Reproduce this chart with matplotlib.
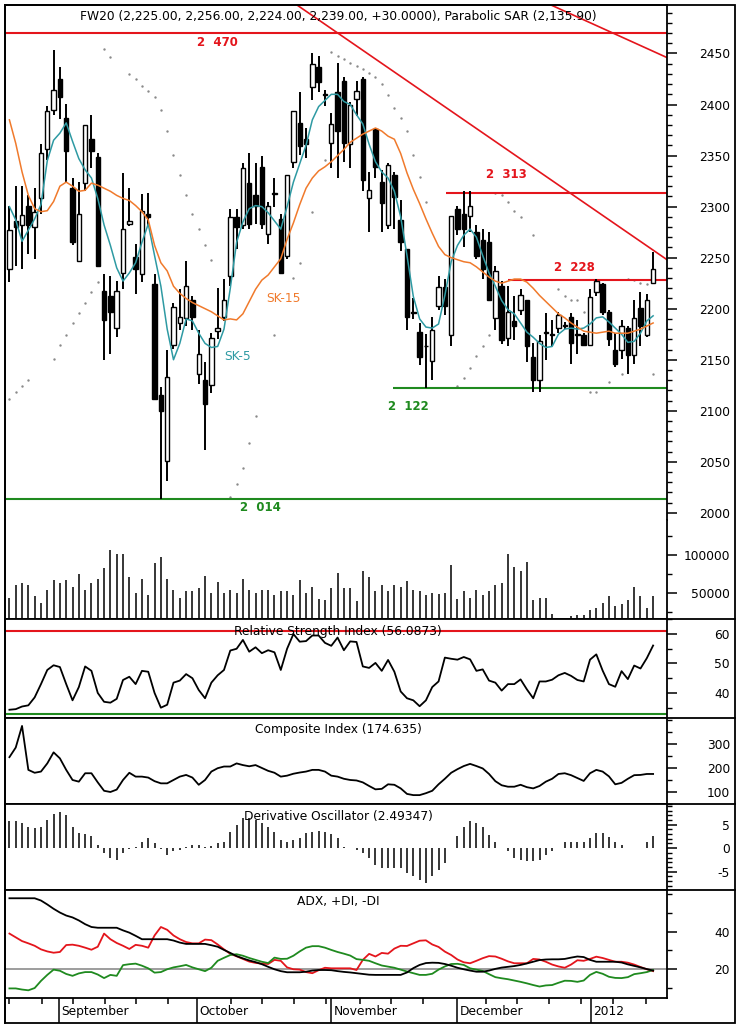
import numpy as np
import matplotlib.pyplot as plt
import matplotlib.lines as mlines
from matplotlib.patches import Rectangle
from matplotlib.ticker import MultipleLocator, FixedLocator

plt.rcParams['font.family'] = ['DejaVu Sans']
plt.rcParams['axes.unicode_minus'] = False

# ── data (one value per session) ────────────────────────────────────────────
opens = [2239, 2286, 2282, 2301, 2280, 2308, 2356, 2395, 2425, 2387,
         2318, 2247, 2323, 2366, 2349, 2217, 2212, 2181, 2235, 2283,
         2251, 2234, 2293, 2224, 2115, 2051, 2164, 2186, 2191, 2209,
         2136, 2130, 2125, 2178, 2192, 2232, 2290, 2282, 2323, 2311,
         2339, 2273, 2313, 2288, 2252, 2344, 2382, 2366, 2417, 2437,
         2410, 2362, 2412, 2423, 2361, 2405, 2425, 2308, 2376, 2324,
         2282, 2331, 2287, 2258, 2197, 2177, 2163, 2149, 2203, 2221,
         2174, 2298, 2293, 2291, 2275, 2267, 2265, 2191, 2222, 2171,
         2188, 2199, 2209, 2153, 2130, 2176, 2175, 2181, 2183, 2192,
         2174, 2174, 2164, 2216, 2224, 2197, 2160, 2160, 2181, 2155,
         2201, 2174, 2225]
highs = [2301, 2320, 2320, 2311, 2318, 2361, 2399, 2453, 2437, 2401,
         2328, 2324, 2380, 2390, 2353, 2234, 2232, 2227, 2333, 2318,
         2263, 2312, 2313, 2234, 2123, 2160, 2206, 2219, 2247, 2212,
         2179, 2148, 2176, 2220, 2229, 2298, 2298, 2343, 2353, 2343,
         2350, 2305, 2328, 2293, 2331, 2394, 2412, 2377, 2450, 2448,
         2414, 2392, 2441, 2427, 2402, 2423, 2427, 2334, 2377, 2336,
         2343, 2334, 2306, 2258, 2210, 2186, 2175, 2192, 2232, 2229,
         2291, 2301, 2315, 2315, 2282, 2278, 2275, 2242, 2227, 2222,
         2212, 2219, 2209, 2166, 2174, 2196, 2189, 2197, 2187, 2196,
         2189, 2176, 2219, 2229, 2225, 2199, 2176, 2189, 2183, 2209,
         2216, 2214, 2256]
lows = [2226, 2242, 2239, 2254, 2249, 2293, 2346, 2390, 2386, 2324,
        2262, 2247, 2315, 2338, 2242, 2150, 2156, 2172, 2219, 2281,
        2214, 2226, 2280, 2112, 2014, 2031, 2161, 2179, 2183, 2179,
        2126, 2062, 2117, 2170, 2188, 2222, 2258, 2278, 2278, 2283,
        2278, 2263, 2300, 2235, 2249, 2338, 2351, 2348, 2404, 2412,
        2399, 2338, 2328, 2344, 2338, 2389, 2315, 2275, 2328, 2275,
        2278, 2278, 2257, 2179, 2190, 2145, 2122, 2130, 2199, 2194,
        2163, 2272, 2260, 2275, 2249, 2229, 2209, 2179, 2165, 2163,
        2169, 2194, 2148, 2118, 2118, 2150, 2163, 2176, 2180, 2146,
        2156, 2163, 2163, 2212, 2194, 2163, 2143, 2151, 2136, 2146,
        2163, 2172, 2224]
closes = [2277, 2280, 2292, 2282, 2295, 2353, 2394, 2414, 2407, 2354,
          2265, 2293, 2380, 2354, 2242, 2189, 2197, 2217, 2278, 2286,
          2239, 2296, 2290, 2112, 2100, 2133, 2202, 2192, 2222, 2192,
          2156, 2107, 2171, 2181, 2209, 2290, 2280, 2338, 2283, 2301,
          2283, 2301, 2312, 2235, 2331, 2394, 2359, 2361, 2440, 2422,
          2409, 2381, 2374, 2362, 2400, 2413, 2326, 2316, 2339, 2304,
          2341, 2309, 2265, 2192, 2196, 2153, 2163, 2179, 2221, 2203,
          2291, 2278, 2278, 2301, 2252, 2239, 2209, 2237, 2169, 2197,
          2183, 2213, 2163, 2130, 2168, 2176, 2174, 2194, 2184, 2166,
          2175, 2164, 2211, 2227, 2197, 2170, 2146, 2183, 2155, 2191,
          2183, 2209, 2239]
volume = [43750, 60400, 62500, 60400, 45900, 37500, 54200, 66700, 62500, 66700,
          58300, 75000, 54200, 62500, 68700, 82500, 107000, 101000, 101000, 70400,
          50000, 68700, 48000, 89600, 97100, 67900, 54200, 43750, 52100, 52100,
          56200, 72900, 50000, 64600, 50000, 54200, 50000, 67900, 54200, 50000,
          54200, 54200, 48000, 52100, 52100, 48000, 66700, 50000, 57500, 41700,
          40400, 56200, 76200, 56200, 56200, 39600, 78300, 70400, 52100, 60400,
          52100, 60400, 57900, 66200, 54200, 52100, 48000, 50000, 49000, 50000,
          86700, 41700, 52100, 43750, 54200, 48000, 52100, 60400, 62500, 101000,
          84600, 78300, 90500, 40400, 43750, 43750, 23000, 9000, 7000, 19600,
          21700, 21700, 28000, 30000, 37500, 45900, 33300, 35400, 40400, 58300,
          45900, 30000, 45900]
sk5 = [2300, 2287, 2266, 2277, 2288, 2302, 2345, 2365, 2372, 2382,
       2364, 2347, 2336, 2328, 2308, 2282, 2262, 2240, 2227, 2235,
       2245, 2265, 2283, 2252, 2222, 2180, 2150, 2166, 2190, 2188,
       2176, 2166, 2162, 2163, 2180, 2220, 2265, 2285, 2298, 2301,
       2300, 2294, 2286, 2278, 2300, 2324, 2342, 2360, 2385, 2398,
       2404, 2410, 2410, 2403, 2400, 2390, 2381, 2361, 2344, 2334,
       2328, 2315, 2290, 2252, 2212, 2190, 2182, 2181, 2185, 2213,
       2246, 2262, 2272, 2278, 2270, 2252, 2235, 2222, 2208, 2199,
       2195, 2186, 2177, 2172, 2166, 2162, 2163, 2175, 2180, 2181,
       2180, 2181, 2185, 2191, 2192, 2187, 2181, 2175, 2167, 2168,
       2176, 2188, 2193]
sk15 = [2385, 2362, 2334, 2311, 2298, 2295, 2296, 2305, 2320, 2324,
        2320, 2315, 2316, 2323, 2321, 2318, 2315, 2311, 2308, 2306,
        2301, 2295, 2287, 2262, 2245, 2237, 2222, 2215, 2210, 2206,
        2203, 2200, 2197, 2193, 2189, 2190, 2189, 2195, 2207, 2219,
        2228, 2233, 2241, 2249, 2268, 2284, 2302, 2318, 2328, 2335,
        2339, 2344, 2350, 2356, 2363, 2367, 2371, 2374, 2377, 2374,
        2369, 2366, 2352, 2333, 2317, 2303, 2288, 2274, 2261, 2253,
        2250, 2248, 2246, 2245, 2241, 2236, 2231, 2227, 2225, 2227,
        2229, 2229, 2226, 2220, 2213, 2207, 2201, 2195, 2191, 2186,
        2182, 2178, 2177, 2176, 2177, 2178, 2176, 2176, 2176, 2178,
        2180, 2183, 2186]
nan = np.nan
sar = [2112, 2118, 2124, 2130, nan, nan, nan, 2151, 2164, 2174,
       2186, 2196, 2206, 2216, 2226, 2454, 2447, nan, nan, 2430,
       2425, 2418, 2413, 2407, 2395, 2374, 2351, 2331, 2311, 2293,
       2278, 2262, 2248, nan, nan, 2016, 2028, 2044, 2068, 2095,
       nan, nan, 2174, nan, nan, 2230, 2245, nan, 2295, nan,
       2346, 2451, 2448, 2445, 2441, 2438, 2435, 2431, 2427, 2420,
       2409, 2397, 2387, 2374, 2351, 2329, 2305, nan, nan, nan,
       nan, 2124, 2132, 2142, 2154, 2163, 2174, 2313, 2311, 2305,
       2296, 2290, nan, 2272, nan, nan, nan, 2219, 2212, 2209,
       2209, 2197, 2118, 2118, nan, 2128, nan, 2136, 2229, 2228,
       2225, 2224, 2136]
rsi = [34.3, 34.5, 35.4, 35.8, 38.5, 43, 47.8, 49.4, 48.8, 43,
       37.5, 42, 49, 47.5, 40, 37, 36.7, 38, 44.4, 45.5,
       43, 47.5, 47.2, 40, 35, 36, 43.5, 44.2, 46.4, 45,
       41, 38.2, 43.5, 46, 47.8, 54.4, 55, 58, 54, 55.5,
       53.5, 54.5, 53.8, 47.8, 55, 60, 57.4, 57.6, 59.5, 59.5,
       57, 56, 58.8, 54.5, 57.5, 57.3, 49, 48.5, 50.2, 47.5,
       51.2, 47.2, 40.5, 38.2, 37.5, 35.5, 37.5, 42, 43.9, 52,
       51.6, 51.3, 52.2, 51.4, 47.5, 48, 44.2, 43.5, 40.8, 43,
       43, 44.6, 41.2, 38.2, 43.9, 43.9, 44.5, 46, 46.8, 45.8,
       44.4, 43.9, 51.3, 53.1, 47.6, 43, 42.1, 47.4, 44.7, 49.3,
       48.3, 51.8, 56.1]
composite = [245, 285, 375, 192, 180, 185, 219, 265, 240, 192,
             150, 143, 178, 178, 140, 105, 100, 110, 150, 180,
             164, 164, 160, 145, 136, 136, 150, 164, 171, 160,
             130, 150, 185, 199, 206, 206, 219, 212, 207, 212,
             200, 188, 180, 164, 168, 176, 181, 185, 192, 192,
             185, 168, 164, 155, 150, 148, 140, 125, 111, 113,
             132, 130, 115, 92, 87, 87, 95, 105, 132, 155,
             180, 195, 208, 217, 208, 198, 175, 145, 128, 122,
             122, 130, 120, 115, 125, 143, 155, 175, 178, 170,
             158, 146, 178, 192, 185, 165, 132, 138, 155, 170,
             171, 175, 175]
deriv_osc = [5.7, 5.7, 5.3, 4.6, 4.2, 4.6, 6.0, 7.3, 7.8, 7.1,
             4.6, 3.2, 3.0, 2.5, 0.7, -1.1, -2.1, -2.6, -1.1, -0.2,
             0.2, 1.4, 2.1, 1.1, -0.2, -1.4, -0.7, -0.35, 0.35, 0.7,
             0.7, 0.35, 0.5, 1.1, 1.4, 3.5, 5.0, 6.4, 6.4, 6.0,
             5.3, 4.6, 3.5, 1.8, 1.4, 1.8, 2.1, 3.2, 3.5, 3.7,
             3.5, 3.0, 2.1, 0.35, 0.05, -0.35, -1.1, -2.1, -3.5, -4.3,
             -4.3, -4.3, -4.3, -5.3, -6.0, -6.7, -7.4, -6.0, -4.6, -3.2,
             0.0, 2.5, 4.6, 5.7, 5.4, 4.6, 2.8, 1.4, 0.05, -0.7,
             -2.1, -2.5, -2.8, -2.8, -2.5, -1.4, -0.7, 0.0, 1.4, 1.4,
             1.4, 1.4, 2.1, 3.2, 3.2, 2.3, 1.4, 0.7, 0.0, 0.0,
             0.0, 1.4, 2.5]
adx = [57.8, 57.8, 57.8, 57.8, 57.8, 56.6, 54.5, 52.2, 50.2, 48.6,
       47.6, 46, 44, 42.5, 42.1, 42.1, 42.1, 42.1, 40.7, 39.5,
       37.8, 36, 36, 36, 36, 36, 35.3, 34.2, 33.5, 33.5,
       33.5, 33.5, 32.8, 32, 30.3, 28.7, 27, 25.8, 24.7, 23.8,
       22.7, 21.3, 20, 19, 18.4, 18.4, 18.4, 18.7, 19.3, 19.6,
       19.6, 19.5, 19, 18.6, 18.3, 17.9, 17.5, 17.1, 17, 17,
       17, 17, 17, 18.3, 20.6, 22.3, 23.3, 23.5, 23.4, 22.8,
       21.9, 20.8, 20, 19.3, 18.7, 18.7, 19.3, 20.2, 20.9, 21.3,
       21.7, 22.3, 23.1, 24, 24.9, 25.2, 25.3, 25.3, 25.5, 26.2,
       26.8, 26.5, 25, 24, 24, 24, 24, 23.6, 22.6, 21.8,
       21, 20.1, 19.3]
minus_di = [39, 37, 35, 33.8, 32.5, 30.6, 29.5, 28.8, 29.2, 32.9,
            33.1, 32.5, 31.5, 30.4, 32, 39, 36, 34, 32.5, 30.8,
            33, 32.5, 31.5, 38, 42.5, 41, 38, 36, 34.5, 33.8,
            33.8, 35.8, 35.5, 33.2, 30.6, 28.2, 26.9, 25.5, 24.1, 23.4,
            23, 22.8, 25, 24.5, 21, 20, 19.8, 18.5, 17.9, 19.5,
            20.8, 20.5, 20.5, 20.5, 20.5, 19.6, 25, 28.2, 26.8, 28.7,
            28.3, 31, 32.5, 32.4, 33.8, 35.2, 35.4, 33.2, 31.9, 29.4,
            27.6, 25.2, 23.7, 23.2, 24.5, 25.9, 27, 26.8, 25.6, 24.2,
            23.2, 23.2, 23.2, 25.5, 25.2, 24, 22.5, 21.5, 20.8, 22.5,
            24.8, 24.5, 25.5, 26.7, 26, 25, 24, 24, 23.5, 22.5,
            21.2, 20, 19]
plus_di = [9.8, 9.8, 9.2, 8.8, 10, 13.8, 17, 19.8, 19.2, 17.5,
           16.5, 17.8, 18.5, 18.5, 17.2, 15.3, 17, 16.5, 22.2, 22.7,
           23, 21.9, 20.5, 18.2, 18.5, 20, 21, 21.6, 22.3, 21,
           20, 19, 20.8, 24.5, 26.1, 27.6, 28, 27.2, 26, 25,
           24, 23.3, 26.2, 25.5, 25.6, 27.2, 29.5, 31.5, 32.3, 32.3,
           31.5, 30.3, 29.2, 28.3, 27.3, 25.4, 25, 24.5, 23.2, 22,
           21.4, 20.8, 19.8, 18.8, 17.9, 17, 17, 17.6, 19.8, 21.5,
           22.8, 22.9, 22.3, 20.5, 19.8, 19.1, 17.4, 15.8, 15.2, 14.7,
           14, 13.3, 12.5, 11.6, 10.8, 11.4, 11.6, 12.8, 13.9, 13.8,
           13.3, 14, 17, 18.6, 17.6, 16, 15.4, 15.3, 15.8, 17.4,
           17.9, 18.5, 19.6]

# support / resistance levels: (price, first session)
res_levels = [(2470, None), (2313, 69.2), (2228, 79.0)]
sup_levels = [(2122, 60.8), (2014, None)]
# trend lines through two (session, price) points
trend_a = [(57.2, 2448), (104.2, 2248)]
trend_b = [(86.0, 2497), (104.2, 2446)]

month_names = ["September", "October", "November", "December", "2012"]
month_pos = [7.8, 29.7, 51.0, 71.0, 92.2]
week_pos = [0, 5.1, 10.1, 15.1, 20.1, 25.1, 35.1, 40.1, 45.1, 50.1,
            55.5, 60.5, 65.5, 75.5, 80.5, 85.5, 90.5, 95.7, 100.9]

title = ("FW20 (2,225.00, 2,256.00, 2,224.00, 2,239.00, +30.0000), "
         "Parabolic SAR (2,135.90)")

# ── layout ───────────────────────────────────────────────────────────────────
W, H = 739, 1030
LEFT, RIGHT, FRAME_R, FRAME_B = 5, 667, 735, 1023
RED, GREEN = "#e4151c", "#1f8a1f"
TEAL, ORANGE = "#2e9aa3", "#f07a2c"
FS = 8.8
MAJ_LEN, MIN_LEN = 7.0, 3.6
LABEL_PAD = (730 - RIGHT) / 1.389 - MAJ_LEN

x = np.arange(len(closes))
o, h, l, c = map(np.array, (opens, highs, lows, closes))
xlim = (-0.70, 104.2)

fig = plt.figure(figsize=(W / 100, H / 100), dpi=100)


def panel(top, bottom):
    ax = fig.add_axes([LEFT / W, 1 - bottom / H, (RIGHT - LEFT) / W, (bottom - top) / H])
    ax.set_xlim(*xlim)
    ax.set_xticks([])
    ax.yaxis.tick_right()
    ax.tick_params(axis="y", which="major", length=MAJ_LEN, width=1.1, direction="out",
                   pad=LABEL_PAD, labelsize=FS)
    ax.tick_params(axis="y", which="minor", length=MIN_LEN, width=1.0, direction="out")
    for s in ax.spines.values():
        s.set_linewidth(1.3)
    return ax


def right_labels(ax):
    for lbl in ax.get_yticklabels():
        lbl.set_horizontalalignment("right")


# price
ax = panel(5, 520)
ax.set_ylim(1993, 2497.5)
ax.yaxis.set_major_locator(MultipleLocator(50))
ax.yaxis.set_minor_locator(MultipleLocator(10))
ax.spines["bottom"].set_visible(False)
ax.vlines(x, l, h, color="black", linewidth=1.4, zorder=3)
body = np.maximum(np.abs(c - o), 0.9)
faces = ["white" if cc >= oo else "black" for oo, cc in zip(o, c)]
ax.bar(x, body, bottom=np.minimum(o, c), width=0.7, color=faces,
       edgecolor="black", linewidth=1.0, zorder=4)
ax.plot(x, sk5, color=TEAL, linewidth=1.1, zorder=5)
ax.plot(x, sk15, color=ORANGE, linewidth=1.1, zorder=5)
ax.scatter(x, sar, s=3, color="#8a8a8a", linewidths=0, zorder=2)
for lvl, start in res_levels:
    ax.hlines(lvl, xlim[0] if start is None else start, xlim[1], color=RED, linewidth=1.5, zorder=2)
for lvl, start in sup_levels:
    ax.hlines(lvl, xlim[0] if start is None else start, xlim[1], color=GREEN, linewidth=1.5, zorder=2)
ax.axline(*trend_a, color=RED, linewidth=1.2, zorder=2)
ax.axline(*trend_b, color=RED, linewidth=1.2, zorder=2)
lbl_kw = dict(ha="center", va="center", fontsize=8.5, fontweight="bold")
ax.text(33.0, 2461, "2  470", color=RED, **lbl_kw)
ax.text(78.7, 2331, "2  313", color=RED, **lbl_kw)
ax.text(89.6, 2240, "2  228", color=RED, **lbl_kw)
ax.text(63.2, 2104, "2  122", color=GREEN, **lbl_kw)
ax.text(39.7, 2005, "2  014", color=GREEN, **lbl_kw)
ax.text(43.4, 2210, "SK-15", color=ORANGE, ha="center", va="center", fontsize=FS)
ax.text(36.2, 2153, "SK-5", color=TEAL, ha="center", va="center", fontsize=FS)
ax.text(0.503, 0.9786, title, transform=ax.transAxes, ha="center", va="center", fontsize=FS)
right_labels(ax)

# volume
axv = panel(520, 619)
axv.set_ylim(15875, 145875)
axv.yaxis.set_major_locator(FixedLocator([50000, 100000]))
axv.yaxis.set_minor_locator(MultipleLocator(25000))
axv.spines["top"].set_visible(False)
axv.vlines(x, 0, volume, color="black", linewidth=1.1)
right_labels(axv)

# RSI
axr = panel(619, 718)
axr.set_ylim(31.5, 65.1)
axr.yaxis.set_major_locator(FixedLocator([40, 50, 60]))
axr.yaxis.set_minor_locator(MultipleLocator(5))
axr.axhline(61, color=RED, linewidth=1.5)
axr.axhline(33, color=GREEN, linewidth=1.5)
axr.plot(x, rsi, color="black", linewidth=1.3)
axr.text(0.503, 0.869, "Relative Strength Index (56.0873)", transform=axr.transAxes,
         ha="center", va="center", fontsize=FS)
right_labels(axr)

# Composite index
axc = panel(718, 804)
axc.set_ylim(50, 408)
axc.yaxis.set_major_locator(FixedLocator([100, 200, 300]))
axc.yaxis.set_minor_locator(MultipleLocator(50))
axc.plot(x, composite, color="black", linewidth=1.3)
axc.text(0.503, 0.872, "Composite Index (174.635)", transform=axc.transAxes,
         ha="center", va="center", fontsize=FS)
right_labels(axc)

# Derivative oscillator
axd = panel(804, 890)
axd.set_ylim(-8.9, 9.4)
axd.yaxis.set_major_locator(FixedLocator([-5, 0, 5]))
axd.yaxis.set_minor_locator(MultipleLocator(1))
axd.vlines(x, 0, deriv_osc, color="black", linewidth=1.1)
axd.text(0.503, 0.849, "Derivative Oscillator (2.49347)", transform=axd.transAxes,
         ha="center", va="center", fontsize=FS)
right_labels(axd)

# ADX
axa = panel(890, 998)
axa.set_ylim(4.7, 62.2)
axa.yaxis.set_major_locator(FixedLocator([20, 40]))
axa.yaxis.set_minor_locator(MultipleLocator(10))
axa.axhline(20, color="#8c8c8c", linewidth=1.2)
axa.plot(x, minus_di, color=RED, linewidth=1.3)
axa.plot(x, plus_di, color=GREEN, linewidth=1.3)
axa.plot(x, adx, color="black", linewidth=1.3)
axa.text(0.503, 0.889, "ADX, +DI, -DI", transform=axa.transAxes,
         ha="center", va="center", fontsize=FS)
right_labels(axa)

# date strip
axx = fig.add_axes([LEFT / W, 1 - FRAME_B / H, (RIGHT - LEFT) / W, (FRAME_B - 998) / H])
axx.set_xlim(*xlim)
axx.set_ylim(0, 1)
axx.set_yticks([])
axx.xaxis.tick_top()
axx.set_xticks(month_pos)
axx.set_xticks(week_pos, minor=True)
axx.tick_params(axis="x", which="major", direction="in", length=18, width=1.1,
                labeltop=False, labelbottom=False)
axx.tick_params(axis="x", which="minor", direction="in", length=4, width=1.1)
for side in ("right", "bottom", "top"):
    axx.spines[side].set_visible(False)
axx.spines["left"].set_linewidth(1.3)
axx.patch.set_alpha(0)
for pos, name in zip(month_pos, month_names):
    axx.text(pos + 0.35, 0.45, name, ha="left", va="center", fontsize=FS)

# outer frame and separators continuing under the value scale
fig.add_artist(Rectangle((LEFT / W, 1 - FRAME_B / H), (FRAME_R - LEFT) / W, (FRAME_B - 5) / H,
                         transform=fig.transFigure, fill=False, edgecolor="black", linewidth=1.3))
for y in (619, 718, 804, 890):
    fig.add_artist(mlines.Line2D([RIGHT / W, FRAME_R / W], [1 - y / H] * 2,
                                 color="black", linewidth=1.3))

fig.savefig("out.png", dpi=100)
